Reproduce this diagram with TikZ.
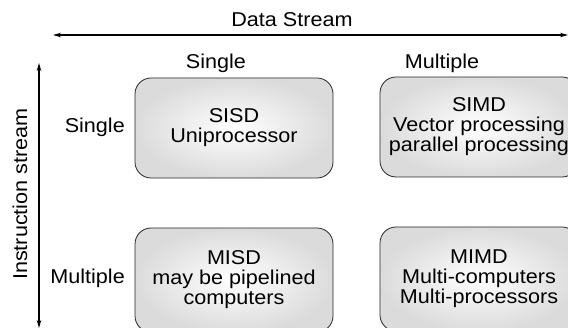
\documentclass[tikz,border=0pt]{standalone}
\usepackage{fontspec}
\setmainfont[FakeStretch=1.08]{Liberation Sans}
\usetikzlibrary{arrows.meta}
\begin{document}
\begin{tikzpicture}[x=1pt,y=-1pt,
  cell/.style={draw=black!85, line width=0.8pt, rounded corners=16pt,
    inner color=white, outer color=black!14, minimum width=198pt, minimum height=100pt,
    align=center, font=\fontsize{20}{20}\selectfont, inner sep=0pt},
  lab/.style={font=\fontsize{20}{20}\selectfont, inner sep=0pt},
  axis/.style={line width=1.1pt, {Stealth[length=8pt,width=4.5pt]}-{Stealth[length=8pt,width=4.5pt]}}]
\useasboundingbox (0,0) rectangle (568,328);
\begin{scope}
\clip (0,0) rectangle (568,328);
\node[cell] (sisd) at (234,128) {SISD\\Uniprocessor};
\node[cell] (simd) at (479,127) {SIMD\\Vector processing\\parallel processing};
\node[cell, minimum height=104pt] (misd) at (234,280) {MISD\\may be pipelined\\computers};
\node[cell, minimum height=104pt] (mimd) at (479,279) {MIMD\\Multi-computers\\Multi-processors};
\end{scope}
\node[lab] (ds) at (292,20) {Data Stream};
\coordinate (hl) at (53,35);
\coordinate (hr) at (568,35);
\draw[axis] (hl) -- (hr);
\node[lab] (cs) at (216,63) {Single};
\node[lab] (cm) at (442,63) {Multiple};
\coordinate (vt) at (39,63);
\coordinate (vb) at (39,328);
\draw[axis] (vt) -- (vb);
\node[lab, rotate=90] (is) at (20,194) {Instruction stream};
\node[lab, anchor=east] (rs) at (125,127) {Single};
\node[lab, anchor=east] (rm) at (125,278) {Multiple};
\end{tikzpicture}
\end{document}
